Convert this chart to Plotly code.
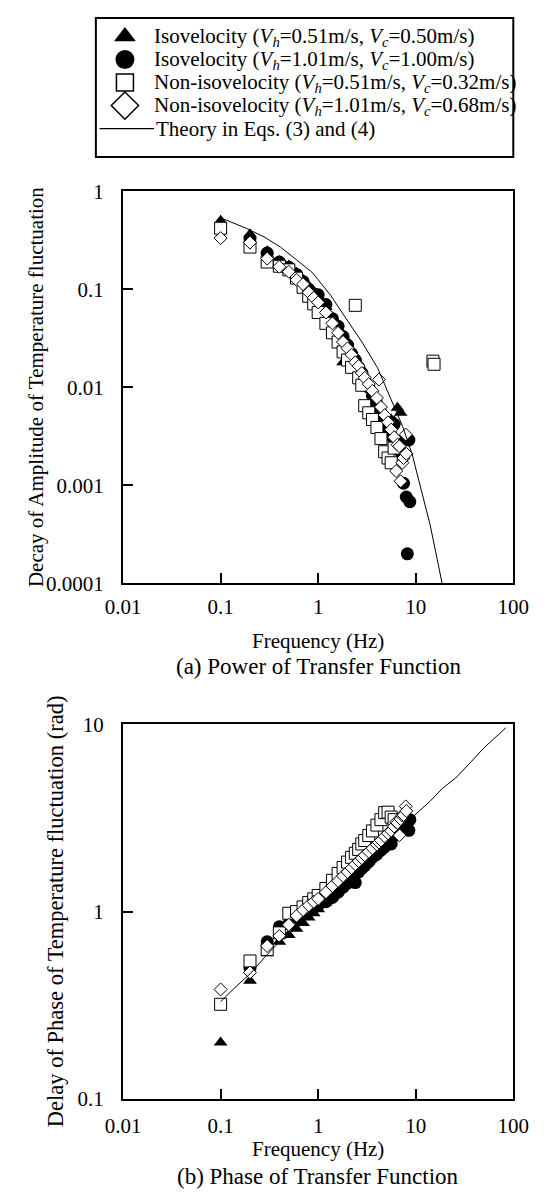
import plotly.graph_objects as go

# ---------------- data ----------------
# Frequencies (Hz) for each measured series
F_TRI = [0.1, 0.2, 0.3, 0.4, 0.5, 0.6, 0.7, 0.8, 0.9, 1.0, 1.2, 1.4, 1.6, 1.8, 2.0, 2.2, 2.4, 2.6, 2.8,
         3.0, 3.3, 3.6, 4.0, 4.4, 4.8, 5.2, 5.6, 6.0, 6.5, 7.0]
F_CIRC = [0.2, 0.3, 0.4, 0.5, 0.6, 0.7, 0.8, 0.9, 1.0, 1.2, 1.4, 1.6, 1.8, 2.0, 2.2, 2.4, 2.6, 2.8,
          3.0, 3.3, 3.6, 4.0, 4.4, 4.8, 5.2, 5.6, 6.0, 6.5, 7.0, 7.5, 8.0, 8.2, 8.5, 8.7]
F_SQ = [0.1, 0.2, 0.3, 0.4, 0.5, 0.6, 0.7, 0.8, 0.9, 1.0, 1.2, 1.4, 1.6, 1.8, 2.0, 2.2, 2.4, 2.6, 2.8,
        3.0, 3.3, 3.6, 4.0, 4.4, 4.8, 5.2, 5.6, 6.0, 15.0, 15.4]
F_DIA = [0.1, 0.2, 0.3, 0.4, 0.5, 0.6, 0.7, 0.8, 0.9, 1.0, 1.2, 1.4, 1.6, 1.8, 2.0, 2.2, 2.4, 2.6, 2.8,
         3.0, 3.3, 3.6, 4.0, 4.2, 4.4, 4.8, 5.2, 5.6, 6.0, 6.3, 6.5, 6.8, 7.0, 7.3, 7.5, 7.9, 8.0]

# (a) amplitude decay
AMP_TRI = [0.50, 0.365, 0.245, 0.195, 0.175, 0.148, 0.125, 0.108, 0.095, 0.085, 0.066, 0.052, 0.040, 0.018,
           0.029, 0.024, 0.020, 0.017, 0.0145, 0.0128, 0.0105, 0.0088, 0.0072, 0.0058, 0.0048, 0.0040,
           0.0047, 0.0045, 0.0062, 0.0055]
AMP_CIRC = [0.33, 0.235, 0.19, 0.168, 0.142, 0.12, 0.10, 0.09, 0.088, 0.07, 0.05, 0.042, 0.033, 0.027,
            0.022, 0.019, 0.016, 0.014, 0.012, 0.010, 0.0082, 0.0068, 0.0055, 0.0045, 0.0037, 0.0032, 0.0042,
            0.0028, 0.0022, 0.00105, 0.00076, 0.0002, 0.0029, 0.00068]
AMP_SQ = [0.42, 0.27, 0.19, 0.172, 0.158, 0.13, 0.105, 0.085, 0.071, 0.058, 0.045, 0.036, 0.029, 0.023, 0.019,
          0.016, 0.0687, 0.0125, 0.0105, 0.0065, 0.0055, 0.0047, 0.0039, 0.0030, 0.0022, 0.0019, 0.0017,
          0.0024, 0.0185, 0.0172]
AMP_DIA = [0.333, 0.30, 0.206, 0.17, 0.151, 0.125, 0.113, 0.093, 0.082, 0.0735, 0.058, 0.045, 0.036, 0.029,
           0.025, 0.0215, 0.018, 0.0165, 0.014, 0.0125, 0.0108, 0.0092, 0.0078, 0.012, 0.0063, 0.0052, 0.0044,
           0.0037, 0.0031, 0.0014, 0.0026, 0.0025, 0.0011, 0.0017, 0.0019, 0.0033, 0.0021]

# (b) phase delay (rad)
PH_TRI = [0.20, 0.428, 0.60, 0.69, 0.75, 0.81, 0.87, 0.93, 0.98, 1.03, 1.12, 1.20, 1.29, 1.37, 1.44, 1.51,
          1.58, 1.65, 1.71, 1.77, 1.86, 1.94, 2.05, 2.15, 2.25, 2.34, 2.43, 2.52, 2.62, 2.72]
PH_CIRC = [0.50, 0.69, 0.83, 0.86, 0.92, 0.97, 1.01, 1.05, 1.08, 1.13, 1.19, 1.27, 1.35, 1.42, 1.50,
           1.43, 1.63, 1.70, 1.76, 1.85, 1.95, 2.03, 2.13, 2.22, 2.32, 2.30, 2.55, 2.62, 2.70, 2.82, 2.75,
           2.78, 2.72, 3.10]
PH_SQ = [0.32, 0.545, 0.627, 0.77, 0.98, 1.00, 1.06, 1.12, 1.17, 1.22, 1.33, 1.47, 1.60, 1.72, 1.84, 1.95,
         2.05, 2.15, 2.30, 2.40, 2.55, 2.70, 2.90, 3.10, 3.38, 3.40, 3.20, 3.10, None, None]
PH_DIA = [0.384, 0.473, 0.655, 0.742, 0.85, 0.95, 1.02, 1.08, 1.13, 1.17, 1.27, 1.37, 1.46, 1.55, 1.63, 1.71,
          1.79, 1.86, 1.93, 2.00, 2.09, 2.18, 2.28, 2.34, 2.40, 2.52, 2.62, 2.70, 2.85, 3.01, 2.98, 2.56,
          3.12, 3.26, 3.28, 3.65, 3.45]

# Theory curves
TH_F_AMP = [0.1, 0.183, 0.285, 0.412, 0.6, 0.86, 1.0, 1.16, 1.34, 1.94, 2.81, 4.06, 5.47, 7.33, 9.16, 10.9,
            12.5, 14.0, 16.0, 18.5, 19.5]
TH_AMP = [0.537, 0.42, 0.339, 0.269, 0.20, 0.15, 0.125, 0.105, 0.087, 0.05, 0.029, 0.0158, 0.0079, 0.004,
          0.0021, 0.00107, 0.00064, 0.0004, 0.00021, 0.000105, 0.00008]
TH_F_PH = [0.1, 0.136, 0.2, 0.28, 0.41, 0.6, 1.0, 2.0, 4.0, 7.0, 10.6, 14.1, 19.0, 25.6, 34.5, 50.0, 70.0, 84.0]
TH_PH = [0.33, 0.387, 0.465, 0.567, 0.70, 0.82, 1.05, 1.48, 2.1, 2.8, 3.39, 3.9, 4.58, 5.17, 6.08, 7.5, 8.8, 9.6]

LEGEND_LABELS = [
    "Isovelocity (<i>V<sub>h</sub></i>=0.51m/s, <i>V<sub>c</sub></i>=0.50m/s)",
    "Isovelocity (<i>V<sub>h</sub></i>=1.01m/s, <i>V<sub>c</sub></i>=1.00m/s)",
    "Non-isovelocity (<i>V<sub>h</sub></i>=0.51m/s, <i>V<sub>c</sub></i>=0.32m/s)",
    "Non-isovelocity (<i>V<sub>h</sub></i>=1.01m/s, <i>V<sub>c</sub></i>=0.68m/s)",
    "Theory in Eqs. (3) and (4)",
]
X_TICKS = [0.01, 0.1, 1, 10, 100]
X_TICKTEXT = ["0.01", "0.1", "1", "10", "100"]
YA_TICKS = [0.0001, 0.001, 0.01, 0.1, 1]
YA_TICKTEXT = ["0.0001", "0.001", "0.01", "0.1", "1"]
YB_TICKS = [0.1, 1, 10]
YB_TICKTEXT = ["0.1", "1", "10"]

# ---------------- layout geometry (pixels) ----------------
W, H = 549, 1200
FONT = "Liberation Serif, Times New Roman, serif"


def fx(p):
    return p / W


def fy(p):
    return 1 - p / H


A_LEFT, A_RIGHT, A_TOP, A_BOT = 112, 528, 183, 583
B_LEFT, B_RIGHT, B_TOP, B_BOT = 112, 528, 727, 1109

STYLES = [
    dict(symbol="triangle-up", size=12, color="black", line=dict(width=0)),
    dict(symbol="circle", size=13, color="black", line=dict(width=0)),
    dict(symbol="square", size=12, color="white", line=dict(width=1, color="black")),
    dict(symbol="diamond", size=10, color="white", line=dict(width=1, color="black")),
]
LEG_STYLES = [
    dict(symbol="triangle-up", size=19, color="black", line=dict(width=0)),
    dict(symbol="circle", size=19, color="black", line=dict(width=0)),
    dict(symbol="square", size=17, color="white", line=dict(width=1.5, color="black")),
    dict(symbol="diamond", size=21, color="white", line=dict(width=1.5, color="black")),
]

fig = go.Figure()

series_a = [(F_TRI, AMP_TRI), (F_CIRC, AMP_CIRC), (F_SQ, AMP_SQ), (F_DIA, AMP_DIA)]
series_b = [(F_TRI, PH_TRI), (F_CIRC, PH_CIRC), (F_SQ, PH_SQ), (F_DIA, PH_DIA)]

for (fx_, vy), st, name in zip(series_a, STYLES, LEGEND_LABELS):
    fig.add_trace(go.Scatter(x=fx_, y=vy, mode="markers", marker=st, name=name,
                             showlegend=False, xaxis="x", yaxis="y"))
fig.add_trace(go.Scatter(x=TH_F_AMP, y=TH_AMP, mode="lines", line=dict(color="black", width=1),
                         showlegend=False, xaxis="x", yaxis="y"))

for (fx_, vy), st, name in zip(series_b, STYLES, LEGEND_LABELS):
    fig.add_trace(go.Scatter(x=fx_, y=vy, mode="markers", marker=st, name=name,
                             showlegend=False, xaxis="x2", yaxis="y2"))
fig.add_trace(go.Scatter(x=TH_F_PH, y=TH_PH, mode="lines", line=dict(color="black", width=1),
                         showlegend=False, xaxis="x2", yaxis="y2"))

# legend box drawn on a pixel-space overlay axis
LEG_L, LEG_R, LEG_T, LEG_B = 83, 528, 6, 148
LEG_ROW0, LEG_DY = 25, 23.5
LEG_SYM_X, LEG_TEXT_X = 114, 143
for i, st in enumerate(LEG_STYLES):
    fig.add_trace(go.Scatter(x=[LEG_SYM_X], y=[LEG_ROW0 + i * LEG_DY], mode="markers", marker=st,
                             showlegend=False, hoverinfo="skip", cliponaxis=False,
                             xaxis="x3", yaxis="y3"))
fig.add_trace(go.Scatter(x=[LEG_L + 4, LEG_TEXT_X + 2], y=[LEG_ROW0 + 4 * LEG_DY] * 2, mode="lines",
                         line=dict(color="black", width=1.2), showlegend=False, hoverinfo="skip",
                         cliponaxis=False, xaxis="x3", yaxis="y3"))

annotations = []
for i, lab in enumerate(LEGEND_LABELS):
    annotations.append(dict(text=lab, x=fx(LEG_TEXT_X + (2 if i == 4 else 0)), y=fy(LEG_ROW0 + i * LEG_DY),
                            xref="paper", yref="paper", xanchor="left", yanchor="middle",
                            showarrow=False, font=dict(family=FONT, size=21, color="black")))

TITLE_FONT = dict(family=FONT, size=21, color="black")
CAP_FONT = dict(family=FONT, size=23, color="black")
annotations += [
    dict(text="Frequency (Hz)", x=fx((A_LEFT + A_RIGHT) / 2), y=fy(642), xref="paper", yref="paper",
         xanchor="center", yanchor="middle", showarrow=False, font=TITLE_FONT),
    dict(text="(a) Power of Transfer Function", x=fx((A_LEFT + A_RIGHT) / 2), y=fy(668), xref="paper",
         yref="paper", xanchor="center", yanchor="middle", showarrow=False, font=CAP_FONT),
    dict(text="Frequency (Hz)", x=fx((B_LEFT + B_RIGHT) / 2), y=fy(1160), xref="paper", yref="paper",
         xanchor="center", yanchor="middle", showarrow=False, font=TITLE_FONT),
    dict(text="(b) Phase of Transfer Function", x=fx((B_LEFT + B_RIGHT) / 2), y=fy(1188), xref="paper",
         yref="paper", xanchor="center", yanchor="middle", showarrow=False, font=CAP_FONT),
    dict(text="Decay of Amplitude of Temperature fluctuation", x=fx(20), y=fy(383), xref="paper",
         yref="paper", xanchor="center", yanchor="middle", textangle=-90, showarrow=False, font=TITLE_FONT),
    dict(text="Delay of Phase of Temperature fluctuation (rad)", x=fx(40), y=fy(918), xref="paper",
         yref="paper", xanchor="center", yanchor="middle", textangle=-90, showarrow=False,
         font=dict(family=FONT, size=22.5, color="black")),
]

axis_common = dict(type="log", showgrid=False, zeroline=False, showline=True, linecolor="black",
                   linewidth=2, mirror=True, ticks="inside", ticklen=10, tickwidth=2, tickcolor="black",
                   tickfont=dict(family=FONT, size=21, color="black"), fixedrange=True)

fig.update_layout(
    width=W, height=H, margin=dict(l=0, r=0, t=0, b=0),
    paper_bgcolor="white", plot_bgcolor="rgba(0,0,0,0)", showlegend=False,
    xaxis=dict(axis_common, domain=[fx(A_LEFT), fx(A_RIGHT)], range=[-2, 2], anchor="y",
               tickvals=X_TICKS, ticktext=X_TICKTEXT, ticklabelstandoff=3),
    yaxis=dict(axis_common, domain=[fy(A_BOT), fy(A_TOP)], range=[-4, 0], anchor="x",
               tickvals=YA_TICKS, ticktext=YA_TICKTEXT, ticklabelstandoff=13),
    xaxis2=dict(axis_common, domain=[fx(B_LEFT), fx(B_RIGHT)], range=[-2, 2], anchor="y2",
                tickvals=X_TICKS, ticktext=X_TICKTEXT, ticklabelstandoff=7),
    yaxis2=dict(axis_common, domain=[fy(B_BOT), fy(B_TOP)], range=[-1, 1], anchor="x2",
                tickvals=YB_TICKS, ticktext=YB_TICKTEXT, ticklabelstandoff=13),
    xaxis3=dict(domain=[0, 1], range=[0, W], visible=False, fixedrange=True, anchor="y3"),
    yaxis3=dict(domain=[0, 1], range=[H, 0], visible=False, fixedrange=True, anchor="x3"),
    shapes=[dict(type="rect", xref="paper", yref="paper", x0=fx(LEG_L), x1=fx(LEG_R), y0=fy(LEG_B),
                 y1=fy(LEG_T), line=dict(color="black", width=2), fillcolor="rgba(0,0,0,0)")],
    annotations=annotations,
)

fig.write_html("out.html")
